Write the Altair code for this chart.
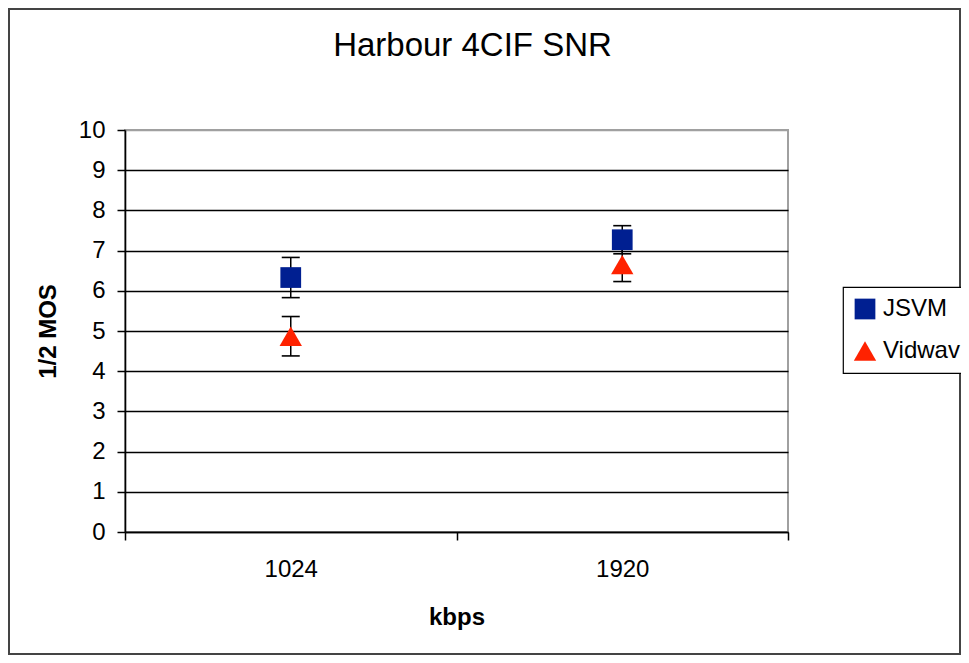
import altair as alt
import pandas as pd

# ---- data ----
kbps = ["1024", "1920"]
series = ["JSVM", "Vidwav"]
jsvm_mean = [6.33, 7.27]
jsvm_err = [0.50, 0.35]
vidwav_mean = [4.87, 6.65]
vidwav_err = [0.49, 0.42]
y_ticks = [0, 1, 2, 3, 4, 5, 6, 7, 8, 9, 10]

rows = []
for s, means, errs in [("JSVM", jsvm_mean, jsvm_err), ("Vidwav", vidwav_mean, vidwav_err)]:
    for k, m, e in zip(kbps, means, errs):
        rows.append({"series": s, "kbps": k, "mos": m, "lo": m - e, "hi": m + e})
df = pd.DataFrame(rows)

FONT = "Liberation Sans"

x_enc = alt.X(
    "kbps:N",
    sort=kbps,
    scale=alt.Scale(paddingInner=0, paddingOuter=0),
    axis=alt.Axis(
        title="kbps",
        labelAngle=0,
        tickBand="extent",
        tickSize=8,
        labelFontSize=24,
        labelPadding=17,
        titleFontSize=24,
        titlePadding=24,
        grid=False,
    ),
)

y_axis = alt.Axis(
    title="1/2 MOS",
    values=y_ticks,
    tickSize=8,
    labelFontSize=24,
    labelPadding=12,
    titleFontSize=24,
    titlePadding=18,
    grid=True,
    gridColor={"condition": {"test": "datum.value == 10", "value": "#a0a0a0"}, "value": "black"},
    gridWidth=1.3,
)
y_scale = alt.Scale(domain=[0, 10], nice=False, zero=True)

base = alt.Chart(df)

err_rule = base.mark_rule(color="black", strokeWidth=1.5).encode(
    x=x_enc,
    y=alt.Y("lo:Q", scale=y_scale, axis=y_axis, title="1/2 MOS"),
    y2="hi:Q",
)
cap_lo = base.mark_tick(color="black", thickness=1.6, size=18, opacity=1).encode(
    x=x_enc, y=alt.Y("lo:Q", scale=y_scale, title="1/2 MOS")
)
cap_hi = base.mark_tick(color="black", thickness=1.6, size=18, opacity=1).encode(
    x=x_enc, y=alt.Y("hi:Q", scale=y_scale, title="1/2 MOS")
)

legend = alt.Legend(
    title=None,
    orient="none",
    legendX=718,
    legendY=157,
    strokeColor="black",
    fillColor="white",
    padding=10,
    labelFontSize=24,
    labelFont=FONT,
    labelColor="black",
    labelOffset=6,
    symbolSize=200,
    symbolStrokeWidth=0,
    rowPadding=18,
)

points = base.mark_point(filled=True, opacity=1, strokeWidth=0).encode(
    x=x_enc,
    y=alt.Y("mos:Q", scale=y_scale, title="1/2 MOS"),
    color=alt.Color(
        "series:N",
        sort=series,
        scale=alt.Scale(domain=series, range=["#001F91", "#FF2200"]),
        legend=legend,
    ),
    shape=alt.Shape(
        "series:N",
        sort=series,
        scale=alt.Scale(domain=series, range=["square", "triangle-up"]),
        legend=legend,
    ),
    size=alt.Size(
        "series:N",
        scale=alt.Scale(domain=series, range=[430, 500]),
        legend=None,
    ),
)

border = alt.Chart(alt.Data(values=[{"b": 1}])).mark_rect(
    filled=False, stroke="#444444", strokeWidth=2
).encode(
    x=alt.value(-116), x2=alt.value(835), y=alt.value(-121), y2=alt.value(524)
)

chart = (
    alt.layer(border, err_rule, cap_lo, cap_hi, points)
    .properties(
        width=663,
        height=402,
        autosize=alt.AutoSizeParams(type="none"),
        padding={"left": 117, "top": 122, "right": 173, "bottom": 123},
        title=alt.TitleParams(
            "Harbour 4CIF SNR",
            font=FONT,
            fontSize=33,
            fontWeight="normal",
            color="black",
            anchor="middle",
            frame="group",
            dx=16,
            offset=-55,
        ),
    )
    .configure(background="white")
    .configure_view(stroke="#a0a0a0", strokeWidth=2, fill="white")
    .configure_legend(strokeWidth=1.2)
    .configure_axis(
        domainColor="black",
        domainWidth=1.6,
        tickColor="black",
        tickWidth=1.5,
        labelColor="black",
        titleColor="black",
        labelFont=FONT,
        titleFont=FONT,
        titleFontWeight="bold",
    )
)

chart.save("out.html", embed_options={"renderer": "svg", "actions": False})
